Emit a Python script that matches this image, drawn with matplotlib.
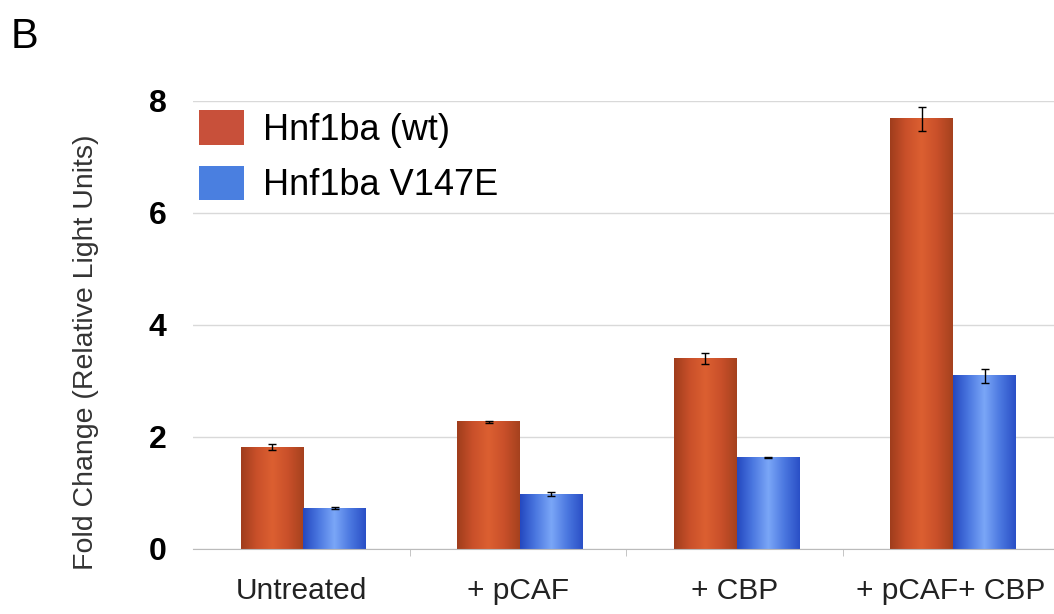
import numpy as np
import matplotlib
matplotlib.use("Agg")
import matplotlib.pyplot as plt
from matplotlib.colors import LinearSegmentedColormap
from matplotlib.patches import Patch

plt.rcParams['font.family'] = ['Liberation Sans', 'DejaVu Sans']

categories = ["Untreated", "+ pCAF", "+ CBP", "+ pCAF+ CBP"]
series = ["Hnf1ba (wt)", "Hnf1ba V147E"]
wt_vals = [1.82, 2.27, 3.40, 7.68]
wt_err = [0.05, 0.02, 0.10, 0.21]
mut_vals = [0.73, 0.98, 1.64, 3.09]
mut_err = [0.02, 0.04, 0.01, 0.12]

red_cmap = LinearSegmentedColormap.from_list("red", ["#9f3d1c", "#c9502a", "#dc5f31", "#c9502a", "#a5411e"])
blue_cmap = LinearSegmentedColormap.from_list("blue", ["#2448c0", "#4b78e0", "#7aa6f7", "#4b78e0", "#2a4fc6"])

fig = plt.figure(figsize=(10.54, 6.14), dpi=100)
ax = fig.add_axes([193/1054, 1 - 549/614, 1 - 193/1054, (549 - 101)/614])

x = np.arange(len(categories))
w = 0.29
bars_wt = ax.bar(x - w/2 + 0.01, wt_vals, w, color="#c9502a", zorder=2)
bars_mut = ax.bar(x + w/2 + 0.01, mut_vals, w, color="#4b78e0", zorder=2)

grad = np.linspace(0, 1, 256).reshape(1, -1)
for bars, cmap in [(bars_wt, red_cmap), (bars_mut, blue_cmap)]:
    for b in bars:
        x0 = b.get_x()
        ax.imshow(grad, cmap=cmap, aspect='auto', zorder=2.5,
                  extent=[x0, x0 + b.get_width(), 0, b.get_height()])

ax.errorbar(x - w/2 + 0.01, wt_vals, yerr=wt_err, fmt='none', ecolor='black',
            elinewidth=1, capsize=3, capthick=1, zorder=4)
ax.errorbar(x + w/2 + 0.01, mut_vals, yerr=mut_err, fmt='none', ecolor='black',
            elinewidth=1, capsize=3, capthick=1, zorder=4)

ax.set_xlim(-0.5, 3.475)
ax.set_ylim(0, 8)
ax.set_yticks([0, 2, 4, 6, 8])
ax.set_xticks(x)
ax.set_xticklabels(categories, fontsize=21.5, color='#222222')
ax.set_xticks([0.5, 1.5, 2.5], minor=True)
ax.tick_params(axis='x', which='major', length=0, pad=20)
ax.tick_params(axis='x', which='minor', length=5, color='#bbbbbb', direction='out')
ax.tick_params(axis='y', length=0, pad=19, labelsize=23)
for t in ax.get_yticklabels():
    t.set_fontweight('bold')

ax.grid(axis='y', color='#d9d9d9', linewidth=1, zorder=0)
ax.set_axisbelow(True)
for s in ['top', 'right', 'left']:
    ax.spines[s].set_visible(False)
ax.spines['bottom'].set_color('#bbbbbb')

fig.text(86/1054, 1 - 352/614, "Fold Change (Relative Light Units)", rotation=90,
         ha='center', va='center', fontsize=20.5, color='#333333')
fig.text(11/1054, 1 - 48/614, "B", fontsize=30, va='baseline')

handles = [Patch(facecolor="#c8503a", edgecolor='none'),
           Patch(facecolor="#4a7fe0", edgecolor='none')]
ax.legend(handles, series, loc='upper left', bbox_to_anchor=(199/1054, 1 - 110/614),
          bbox_transform=fig.transFigure, frameon=False, fontsize=26,
          handlelength=1.25, handleheight=1.1, handletextpad=0.53,
          labelspacing=0.5, borderpad=0, borderaxespad=0)

fig.savefig("out.png", dpi=100)
